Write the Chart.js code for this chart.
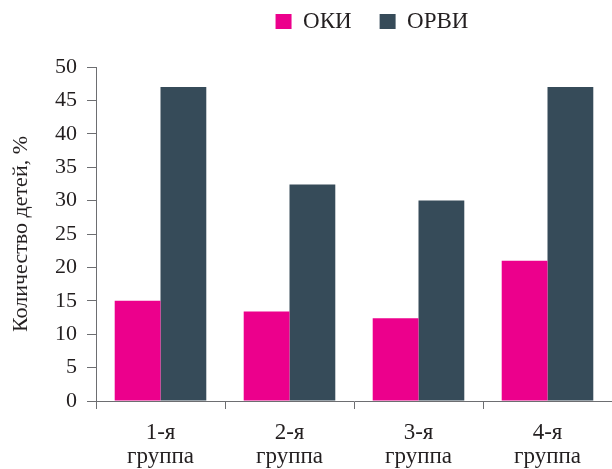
<!DOCTYPE html>
<html>
<head>
<meta charset="utf-8">
<script src="https://cdn.jsdelivr.net/npm/chart.js@4"></script>
<style>
  html, body { margin: 0; padding: 0; background: #ffffff; }
  #wrap { width: 612px; height: 469px; }
</style>
</head>
<body>
<div id="wrap"><canvas id="chart" width="612" height="469"></canvas></div>
<script>
// Categories (two-line labels) and series values, %
const groups = [['1-я', 'группа'], ['2-я', 'группа'], ['3-я', 'группа'], ['4-я', 'группа']];
const okiValues = [15, 13.4, 12.4, 21];
const orviValues = [47, 32.4, 30, 47];
const seriesNames = ['ОКИ', 'ОРВИ'];
const yTitle = 'Количество детей, %';

const FONT = 'Liberation Serif';
const TEXT = '#231f20';
const AXIS = '#6d6e71';

Chart.defaults.font.family = FONT;

// place the legend right of centre and close to the top edge
const legendShift = {
  id: 'legendShift',
  afterLayout(chart) {
    const lg = chart.legend;
    if (lg) {
      lg.left += 66; lg.right += 66;
      lg.top -= 24; lg.bottom -= 24;
    }
  }
};

new Chart(document.getElementById('chart'), {
  type: 'bar',
  data: {
    labels: groups,
    datasets: [
      { label: seriesNames[0], data: okiValues, backgroundColor: '#ec008c' },
      { label: seriesNames[1], data: orviValues, backgroundColor: '#364b59' }
    ]
  },
  options: {
    responsive: false,
    animation: false,
    devicePixelRatio: 1,
    layout: { padding: { top: 6, right: 0, bottom: 0, left: 0 } },
    datasets: { bar: { categoryPercentage: 0.71, barPercentage: 1.0 } },
    plugins: {
      tooltip: { enabled: false },
      legend: {
        position: 'top',
        labels: {
          font: { family: FONT, size: 23 },
          color: TEXT,
          boxWidth: 16,
          boxHeight: 15,
          padding: 28
        }
      }
    },
    scales: {
      x: {
        offset: true,
        border: { color: AXIS, width: 1 },
        grid: { drawOnChartArea: false, drawTicks: true, tickLength: 8, color: AXIS, offset: true },
        ticks: { font: { family: FONT, size: 23, lineHeight: 1.05 }, color: TEXT, padding: 12, maxRotation: 0 },
        afterFit(s) { s.height = 68; }
      },
      y: {
        min: 0,
        max: 50,
        border: { color: AXIS, width: 1 },
        grid: { drawOnChartArea: false, drawTicks: true, tickLength: 9, color: AXIS },
        ticks: { stepSize: 5, font: { family: FONT, size: 22 }, color: TEXT, padding: 10 },
        title: { display: true, text: yTitle, font: { family: FONT, size: 22 }, color: TEXT, padding: { top: 8, bottom: 0 } },
        afterFit(s) { s.width = 96; }
      }
    }
  },
  plugins: [legendShift]
});
</script>
</body>
</html>
